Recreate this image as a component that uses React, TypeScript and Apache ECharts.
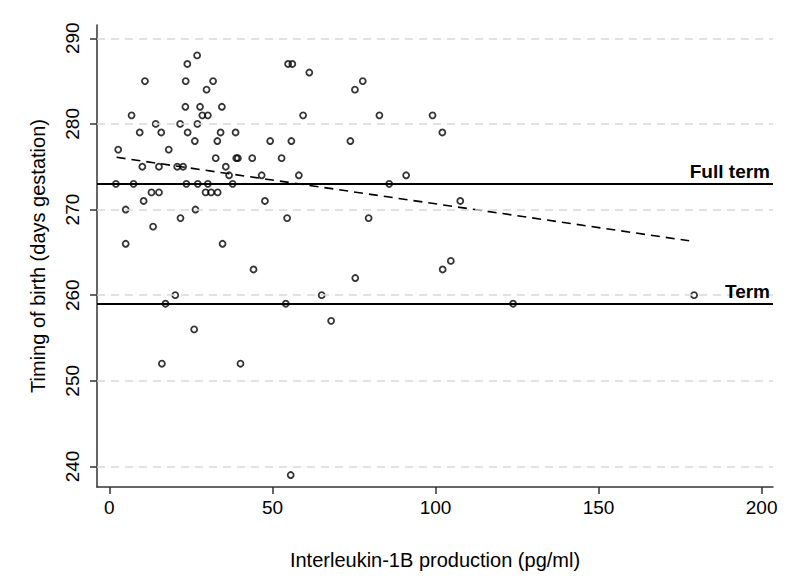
import React, { useEffect, useRef } from "react";
import * as echarts from "echarts";

// Interleukin-1B production (pg/ml) and timing of birth (days gestation)
const il1b: number[] = [
  26.9,
  23.9, 54.8, 56.1,
  61.3,
  10.9, 23.4, 31.8, 77.7,
  29.8, 75.3,
  23.3, 27.8, 34.5,
  6.8, 28.5, 30.2, 59.4, 82.8, 99.1,
  14.2, 21.7, 27.0,
  9.3, 15.9, 24.0, 34.1, 38.7, 102.1,
  26.2, 33.1, 49.3, 55.8, 73.9,
  2.7, 18.2,
  32.6, 38.9, 39.4, 43.8, 52.8,
  10.1, 15.2, 20.8, 22.6, 35.7,
  36.7, 46.7, 58.1, 91.0,
  2.0, 7.4, 23.6, 27.1, 30.2, 37.8, 85.8,
  12.9, 15.2, 29.5, 31.2, 33.2,
  10.5, 47.7, 107.6,
  5.0, 26.4,
  21.8, 54.5, 79.5,
  13.4,
  5.0, 34.7,
  104.7,
  44.2, 102.2,
  75.4,
  20.2, 65.1, 179.3,
  17.2, 54.1, 123.8,
  68.0,
  26.0,
  16.1, 40.2,
  55.6,
];

const gestation: number[] = [
  288,
  287, 287, 287,
  286,
  285, 285, 285, 285,
  284, 284,
  282, 282, 282,
  281, 281, 281, 281, 281, 281,
  280, 280, 280,
  279, 279, 279, 279, 279, 279,
  278, 278, 278, 278, 278,
  277, 277,
  276, 276, 276, 276, 276,
  275, 275, 275, 275, 275,
  274, 274, 274, 274,
  273, 273, 273, 273, 273, 273, 273,
  272, 272, 272, 272, 272,
  271, 271, 271,
  270, 270,
  269, 269, 269,
  268,
  266, 266,
  264,
  263, 263,
  262,
  260, 260, 260,
  259, 259, 259,
  257,
  256,
  252, 252,
  239,
];

// fitted regression line end points
const fitX: number[] = [2.2, 177.8];
const fitY: number[] = [276.1, 266.35];

// reference lines
const refValues: number[] = [273, 259];
const refLabels: string[] = ["Full term", "Term"];

// ticks
const yTicks: number[] = [240, 250, 260, 270, 280, 290];
const xTicks: number[] = [0, 50, 100, 150, 200];

const FONT = "'Liberation Sans', Arial, Helvetica, sans-serif";

export default function App() {
  const ref = useRef<HTMLDivElement>(null);

  useEffect(() => {
    if (!ref.current) return;
    const chart = echarts.init(ref.current, null, { renderer: "svg" });

    const points = il1b.map((x, i) => [x, gestation[i]]);
    const fit = fitX.map((x, i) => [x, fitY[i]]);

    chart.setOption({
      animation: false,
      backgroundColor: "#fff",
      textStyle: { fontFamily: FONT },
      grid: { left: 97, right: 27, top: 25, bottom: 98, containLabel: false },
      xAxis: {
        type: "value",
        min: -3.8,
        max: 203.5,
        name: "Interleukin-1B production (pg/ml)",
        nameLocation: "middle",
        nameGap: 63,
        nameTextStyle: { fontSize: 20, color: "#000", fontFamily: FONT },
        axisLine: { show: true, onZero: false, lineStyle: { color: "#333", width: 1.5 } },
        axisTick: { show: true, length: 7, customValues: xTicks, lineStyle: { color: "#333", width: 1.5 } },
        axisLabel: { customValues: xTicks, fontSize: 19, color: "#000", margin: 11, fontFamily: FONT },
        splitLine: { show: false },
      },
      yAxis: {
        type: "value",
        min: 237.6,
        max: 291.55,
        name: "Timing of birth (days gestation)",
        nameLocation: "middle",
        nameGap: 49,
        nameRotate: 90,
        nameTextStyle: { fontSize: 20, color: "#000", fontFamily: FONT },
        axisLine: { show: true, onZero: false, lineStyle: { color: "#333", width: 1.5 } },
        axisTick: { show: true, length: 7, customValues: yTicks, lineStyle: { color: "#333", width: 1.5 } },
        axisLabel: { customValues: yTicks, fontSize: 19, color: "#000", margin: 15, rotate: 90, fontFamily: FONT },
        splitLine: { show: false },
      },
      series: [
        {
          type: "line",
          data: [],
          silent: true,
          z: 1,
          markLine: {
            silent: true,
            symbol: ["none", "none"],
            label: { show: false },
            lineStyle: { color: "#d9d9d9", width: 1.5, type: [8, 6] },
            data: yTicks.map((v) => ({ yAxis: v })),
          },
        },
        {
          type: "line",
          data: fit,
          symbol: "none",
          silent: true,
          z: 3,
          lineStyle: { color: "#000", width: 1.6, type: [9, 6] },
          markLine: {
            silent: true,
            symbol: ["none", "none"],
            lineStyle: { color: "#000", width: 2, type: "solid" },
            label: {
              show: true,
              position: "insideEndTop",
              distance: [3, 3],
              fontSize: 19,
              fontWeight: "bold",
              color: "#000",
              fontFamily: FONT,
            },
            data: refValues.map((v, i) => ({
              yAxis: v,
              label: { formatter: refLabels[i] },
            })),
          },
        },
        {
          type: "scatter",
          data: points,
          symbol: "circle",
          symbolSize: 6,
          z: 4,
          itemStyle: { color: "rgba(0,0,0,0)", borderColor: "#000", borderWidth: 1.8 },
        },
      ],
    });

    return () => chart.dispose();
  }, []);

  return (
    <div
      ref={ref}
      style={{ position: "fixed", left: 0, top: 0, width: 800, height: 585, background: "#fff" }}
    />
  );
}
